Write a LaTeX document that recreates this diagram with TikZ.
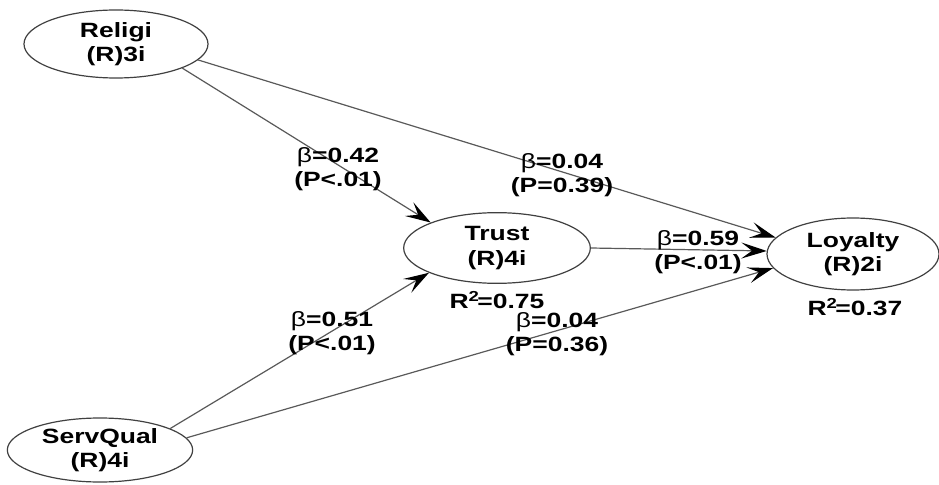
\documentclass[tikz,border=0pt]{standalone}
\usepackage{fontspec}
\setmainfont[FakeStretch=1.28]{Liberation Sans}
\usetikzlibrary{shapes.geometric,arrows.meta}
\begin{document}
\begin{tikzpicture}[x=0.75pt,y=-0.75pt,
  lv/.style={ellipse,draw=black!75,line width=0.9pt,inner sep=0pt,align=center,
    font=\fontsize{15.5}{18.5}\selectfont\bfseries},
  lbl/.style={align=center,font=\fontsize{15.5}{18}\selectfont\bfseries,inner sep=0pt},
  path/.style={draw=black!65,line width=0.9pt,
    -{Stealth[length=19pt,width=12pt,inset=8pt,color=black]}}]
\useasboundingbox (0,0) rectangle (939,485);
\node[lv,minimum width=138pt,minimum height=51pt] (rel) at (116,44) {Religi\\(R)3i};
\node[lv,minimum width=140pt,minimum height=53pt] (tru) at (497,248) {Trust\\(R)4i};
\node[lv,minimum width=129pt,minimum height=54pt] (loy) at (853,254) {Loyalty\\(R)2i};
\node[lv,minimum width=139pt,minimum height=48pt] (sq) at (100,450) {ServQual\\(R)4i};

\draw[path] (rel.-20) -- (tru.159);
\draw[path] (rel.-11) -- (loy.168);
\draw[path] (tru.east) -- (loy.178);
\draw[path] (sq.17) -- (tru.200);
\draw[path] (sq.8) -- (loy.190);

\node[lbl] (l1) at (338,169) {{\mdseries β}=0.42\\(P<.01)};
\node[lbl] (l2) at (562,175) {{\mdseries β}=0.04\\(P=0.39)};
\node[lbl] (l3) at (698,252) {{\mdseries β}=0.59\\(P<.01)};
\node[lbl] (l4) at (332,333) {{\mdseries β}=0.51\\(P<.01)};
\node[lbl] (l5) at (557,334) {{\mdseries β}=0.04\\(P=0.36)};
\node[lbl] (r1) at (497,300) {R$^{\mathbf 2}$=0.75};
\node[lbl] (r2) at (855,307) {R$^{\mathbf 2}$=0.37};
\end{tikzpicture}
\end{document}
